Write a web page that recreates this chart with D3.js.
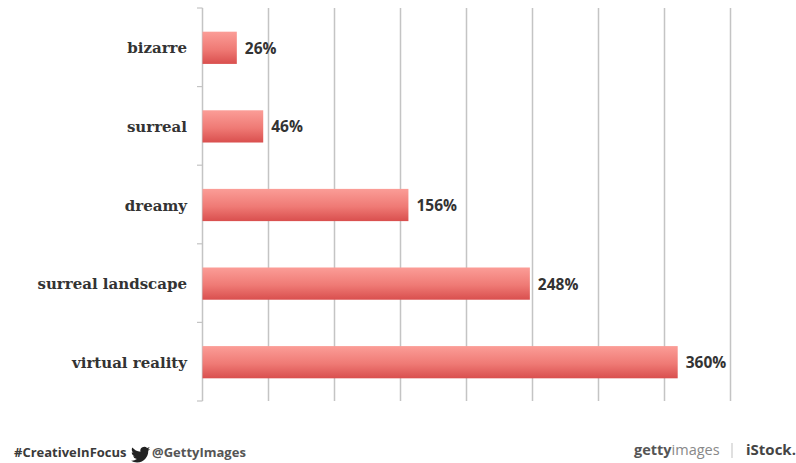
<!DOCTYPE html>
<html>
<head>
<meta charset="utf-8">
<script src="https://cdn.jsdelivr.net/npm/d3@7"></script>
<style>
  html, body { margin: 0; padding: 0; background: #fff; }
  svg { display: block; }
</style>
</head>
<body>
<svg id="chart" width="796" height="463"></svg>
<script>
// Growth in search terms, drawn as a horizontal bar chart
const terms = ["bizarre", "surreal", "dreamy", "surreal landscape", "virtual reality"];
const growth = [26, 46, 156, 248, 360];
const gridValues = [0, 50, 100, 150, 200, 250, 300, 350, 400];

const svg = d3.select("#chart");
const x = d3.scaleLinear().domain([0, 400]).range([202.5, 730.5]);
const y = d3.scaleBand().domain(terms).range([8.5, 401.5]).paddingInner(0.59).paddingOuter(0.295);
const slab = "'DejaVu Serif', serif";
const sans = "'Open Sans', 'Liberation Sans', sans-serif";

const grad = svg.append("defs").append("linearGradient")
  .attr("id", "barFill").attr("x1", 0).attr("x2", 0).attr("y1", 0).attr("y2", 1);
grad.append("stop").attr("offset", "0%").attr("stop-color", "#fb9d97");
grad.append("stop").attr("offset", "55%").attr("stop-color", "#ef7a75");
grad.append("stop").attr("offset", "100%").attr("stop-color", "#d94f4e");

// Vertical gridlines, one for every 50%
svg.append("g").selectAll("line").data(gridValues).join("line")
  .attr("x1", d => x(d)).attr("x2", d => x(d))
  .attr("y1", 8).attr("y2", 401)
  .attr("stroke", "#c4c4c4").attr("stroke-width", 1.5);

// Small category ticks to the left of the baseline
const tickPos = d3.range(terms.length + 1).map(i => 8 + i * (393 / terms.length));
svg.append("g").selectAll("line").data(tickPos).join("line")
  .attr("x1", 197).attr("x2", 202.5)
  .attr("y1", d => d).attr("y2", d => d)
  .attr("stroke", "#c4c4c4").attr("stroke-width", 1.2);

// Bars
svg.append("g").selectAll("rect").data(terms).join("rect")
  .attr("x", x(0))
  .attr("y", d => y(d))
  .attr("width", (d, i) => x(growth[i]) - x(0))
  .attr("height", y.bandwidth())
  .attr("fill", "url(#barFill)");

// Category labels
svg.append("g").selectAll("text").data(terms).join("text")
  .attr("x", 187)
  .attr("y", d => y(d) + y.bandwidth() / 2 + 5.5)
  .attr("text-anchor", "end")
  .attr("font-family", slab).attr("font-weight", "bold").attr("font-size", 15)
  .attr("fill", "#333")
  .text(d => d);

// Value labels at the bar ends
svg.append("g").selectAll("text").data(terms).join("text")
  .attr("x", (d, i) => x(growth[i]) + 8)
  .attr("y", d => y(d) + y.bandwidth() / 2 + 6)
  .attr("font-family", sans).attr("font-weight", "bold").attr("font-size", 15.5)
  .attr("fill", "#333")
  .text((d, i) => growth[i] + "%");

// Footer: hashtag, bird mark, handle
svg.append("text").attr("x", 14).attr("y", 457)
  .attr("font-family", sans).attr("font-weight", "bold").attr("font-size", 13)
  .attr("fill", "#3a3a3a").text("#CreativeInFocus");
svg.append("path")
  .attr("transform", "translate(131,445) scale(0.8)")
  .attr("fill", "#222")
  .attr("d", "M23.953 4.57a10 10 0 01-2.825.775 4.958 4.958 0 002.163-2.723c-.951.555-2.005.959-3.127 1.184a4.92 4.92 0 00-8.384 4.482C7.69 8.095 4.067 6.13 1.64 3.162a4.822 4.822 0 00-.666 2.475c0 1.71.87 3.213 2.188 4.096a4.904 4.904 0 01-2.228-.616v.06a4.923 4.923 0 003.946 4.827 4.996 4.996 0 01-2.212.085 4.936 4.936 0 004.604 3.417 9.867 9.867 0 01-6.102 2.105c-.39 0-.779-.023-1.17-.067a13.995 13.995 0 007.557 2.209c9.053 0 13.998-7.496 13.998-13.985 0-.21 0-.42-.015-.63A9.935 9.935 0 0024 4.59z");
svg.append("text").attr("x", 152).attr("y", 457)
  .attr("font-family", sans).attr("font-weight", "bold").attr("font-size", 13)
  .attr("fill", "#555").text("@GettyImages");

// Footer: brand names
const brand = svg.append("text").attr("x", 634).attr("y", 455)
  .attr("font-family", sans).attr("font-size", 14.5).attr("fill", "#555");
brand.append("tspan").attr("font-weight", "bold").text("getty");
brand.append("tspan").attr("fill", "#888").text("images");
svg.append("line").attr("x1", 732).attr("x2", 732).attr("y1", 443).attr("y2", 458)
  .attr("stroke", "#ccc").attr("stroke-width", 1.2);
svg.append("text").attr("x", 746).attr("y", 455)
  .attr("font-family", sans).attr("font-weight", "bold").attr("font-size", 15)
  .attr("fill", "#444").text("iStock.");
</script>
</body>
</html>
